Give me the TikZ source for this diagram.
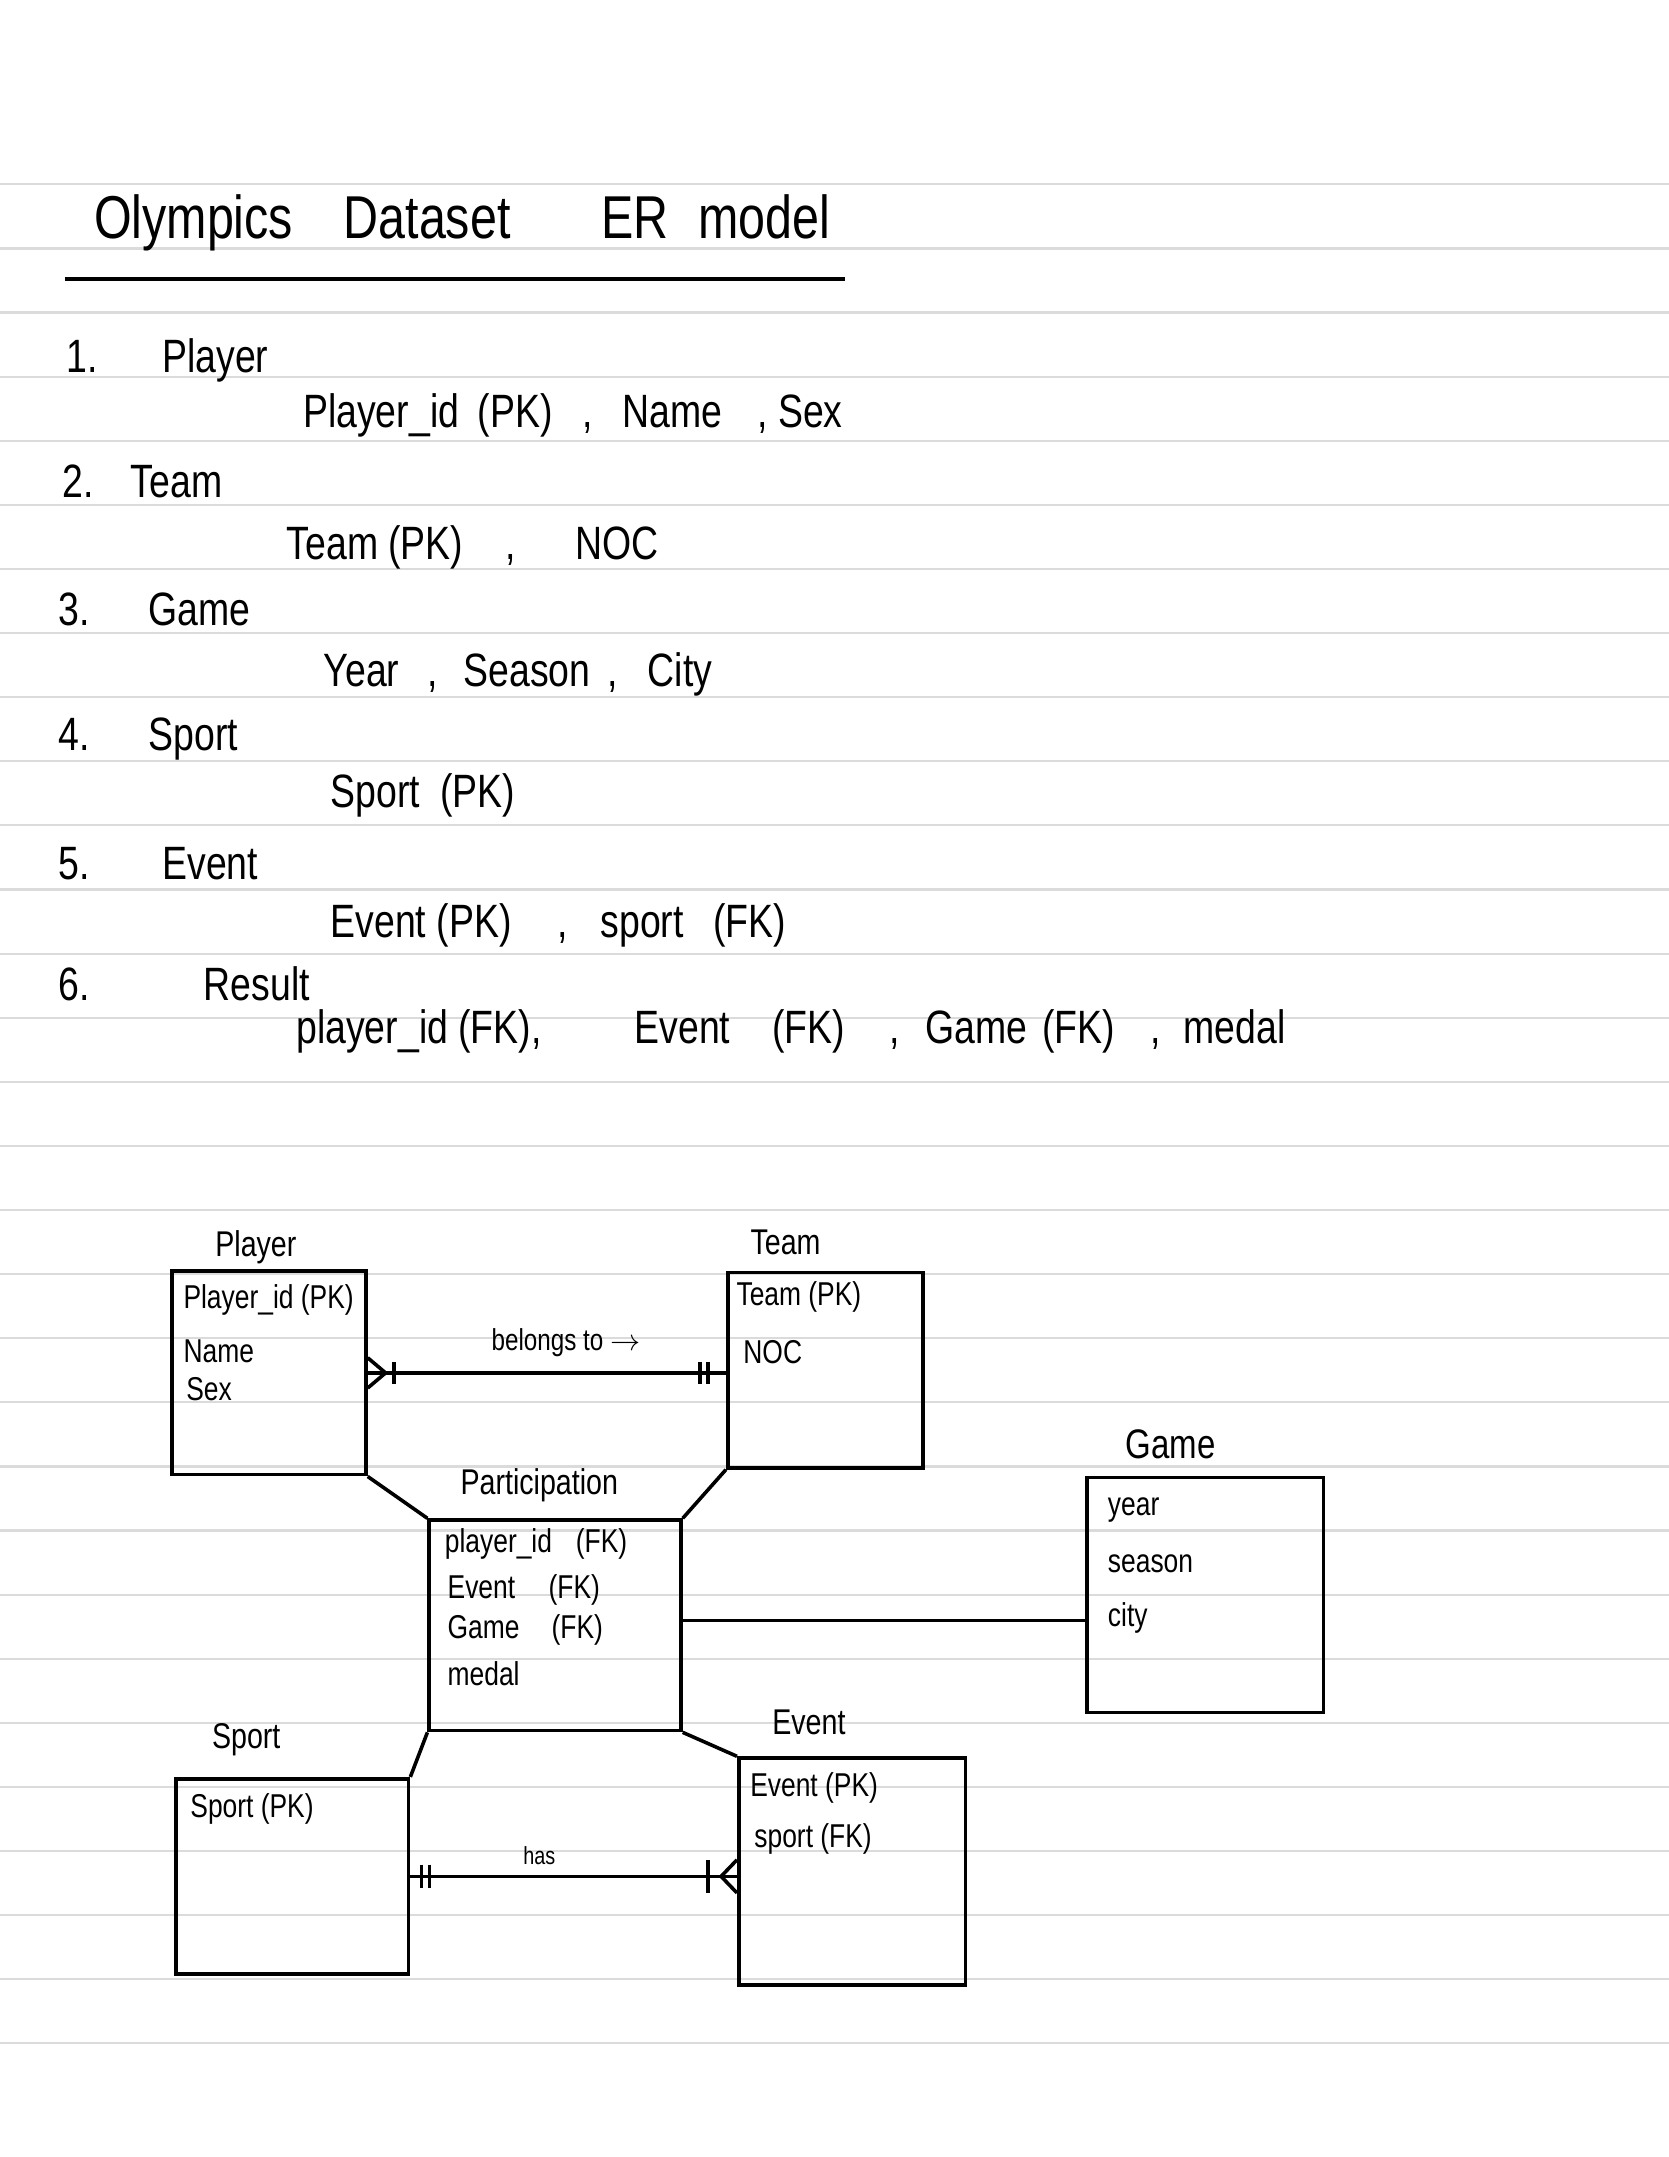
\documentclass[tikz,border=0pt]{standalone}
\usepackage{fontspec}
\setmainfont{Liberation Sans}[FakeStretch=0.8]
\usetikzlibrary{calc}
\tikzset{
  rule/.style={draw=black!14, line width=0.8pt},
  ent/.style={draw, rectangle, line width=1.3pt, inner sep=0pt},
  conn/.style={line width=1.3pt},
  ttl/.style={inner sep=0pt, anchor=west, font=\fontsize{22}{26}\selectfont},
  lst/.style={inner sep=0pt, anchor=west, font=\fontsize{17}{20}\selectfont},
  dlab/.style={inner sep=0pt, font=\fontsize{13}{15}\selectfont},
  attr/.style={inner sep=0pt, anchor=west, font=\fontsize{12}{14}\selectfont},
  rel/.style={inner sep=0pt, font=\fontsize{11}{13}\selectfont}
}
\begin{document}
\begin{tikzpicture}[x=0.5pt, y=-0.5pt]
\fill[white] (0,0) rectangle (1213,1568);
\useasboundingbox (0,0) rectangle (1213,1568);
% ruled paper lines
\foreach \k in {0,...,29} {
  \draw[rule] (0,{134+46.6*\k}) -- (1213,{134+46.6*\k});
}
% title
\node[ttl] (title) at (68,162) {Olympics\hspace{13.5pt} Dataset\hspace{28pt} ER\hspace{6pt} model};
\draw[line width=1.6pt] (47,203) -- (614,203);
% list
\node[lst] (h1) at (48,262) {1.\hspace{23.5pt}Player};
\node[lst] (a1) at (220,302) {Player\_id\hspace{3pt} (PK)\hspace{7pt} ,\hspace{7pt} Name\hspace{9pt} , Sex};
\node[lst] (h2) at (45,350) {2.\hspace{13.5pt}Team};
\node[lst] (a2) at (208,398) {Team (PK)\hspace{11.5pt} ,\hspace{18pt} NOC};
\node[lst] (h3) at (42,443) {3.\hspace{21.5pt}Game};
\node[lst] (a3) at (235,490) {Year\hspace{6.5pt} ,\hspace{5.5pt} Season\hspace{2.5pt} ,\hspace{7pt} City};
\node[lst] (h4) at (42,537) {4.\hspace{21.5pt}Sport};
\node[lst] (a4) at (240,578) {Sport\hspace{3.5pt} (PK)};
\node[lst] (h5) at (42,628) {5.\hspace{26.5pt}Event};
\node[lst] (a5) at (240,673) {Event (PK)\hspace{13pt} ,\hspace{8pt} sport\hspace{7pt} (FK)};
\node[lst] (h6) at (42,715) {6.\hspace{41.5pt}Result};
\node[lst] (a6) at (215,750) {player\_id (FK),\hspace{30pt} Event\hspace{11.5pt} (FK)\hspace{12.5pt} ,\hspace{5.5pt} Game\hspace{1.5pt} (FK)\hspace{13pt},\hspace{4.5pt} medal};
% entity boxes
\node[ent, minimum width=70.5pt, minimum height=74pt] (player) at (195.5,998) {};
\node[ent, minimum width=71pt, minimum height=71pt] (team) at (600,996) {};
\node[ent, minimum width=86pt, minimum height=85.5pt] (game) at (876,1159.5) {};
\node[ent, minimum width=91.5pt, minimum height=76.5pt] (part) at (403.5,1181.5) {};
\node[ent, minimum width=84.5pt, minimum height=71pt] (sport) at (212.5,1364) {};
\node[ent, minimum width=82.5pt, minimum height=82.5pt] (event) at (619.5,1360.5) {};
% entity titles
\node[dlab] (lplayer) at (186,907) {Player};
\node[dlab] (lteam) at (571,903) {Team};
\node[dlab, font=\fontsize{15}{17}\selectfont] (lgame) at (851,1050) {Game};
\node[dlab] (lpart) at (392,1080) {Participation};
\node[dlab] (lsport) at (179,1265) {Sport};
\node[dlab] (levent) at (588,1252) {Event};
% attributes
\node[attr] (p1) at (133,945) {Player\_id (PK)};
\node[attr] (p2) at (133,982) {Name};
\node[attr] (p3) at (135,1010) {Sex};
\node[attr] (t1) at (535,943) {Team (PK)};
\node[attr] (t2) at (540,983) {NOC};
\node[attr] (g1) at (805,1098) {year};
\node[attr] (g2) at (805,1137) {season};
\node[attr] (g3) at (805,1176) {city};
\node[attr] (r1) at (323,1122) {player\_id\hspace{6pt} (FK)};
\node[attr] (r2) at (325,1156) {Event\hspace{9.5pt} (FK)};
\node[attr] (r3) at (325,1185) {Game\hspace{9pt} (FK)};
\node[attr] (r4) at (325,1217) {medal};
\node[attr] (s1) at (138,1315) {Sport (PK)};
\node[attr] (e1) at (545,1300) {Event (PK)};
\node[attr] (e2) at (548,1337) {sport (FK)};
% participation links
\draw[conn] (player.south east) -- (part.north west);
\draw[conn] (team.south west) -- (part.north east);
\draw[conn] (part.south west) -- (sport.north east);
\draw[conn] (part.south east) -- (event.north west);
\coordinate (pg) at ([yshift=1.75pt]part.east);
\draw[conn] (pg) -- (pg -| game.west);
% belongs to (many players -> one team)
\coordinate (pe) at (player.east);
\coordinate (tw) at (player.east -| team.west);
\draw[conn] (pe) -- (tw);
\draw[conn] ($(pe)+(0,-11)$) -- ($(pe)+(13,0)$) -- ($(pe)+(0,11)$);
\draw[conn] ($(pe)+(19,-8)$) -- ($(pe)+(19,8)$);
\draw[conn] ($(tw)+(-19,-8)$) -- ($(tw)+(-19,8)$);
\draw[conn] ($(tw)+(-13,-8)$) -- ($(tw)+(-13,8)$);
\node[rel, anchor=west] (lbel) at (357,976) {belongs to $\rightarrow$};
% has (one sport -> many events)
\coordinate (se) at (sport.east);
\coordinate (ew) at (sport.east -| event.west);
\draw[conn] (se) -- (ew);
\draw[conn] ($(se)+(8,-8.5)$) -- ($(se)+(8,8.5)$);
\draw[conn] ($(se)+(14,-8.5)$) -- ($(se)+(14,8.5)$);
\draw[conn] ($(ew)+(-21,-12)$) -- ($(ew)+(-21,12)$);
\draw[conn] ($(ew)+(0,-12)$) -- ($(ew)+(-11.5,0)$) -- ($(ew)+(0,12)$);
\node[rel, font=\fontsize{9}{11}\selectfont] (lhas) at (392,1349) {has};
\end{tikzpicture}
\end{document}
